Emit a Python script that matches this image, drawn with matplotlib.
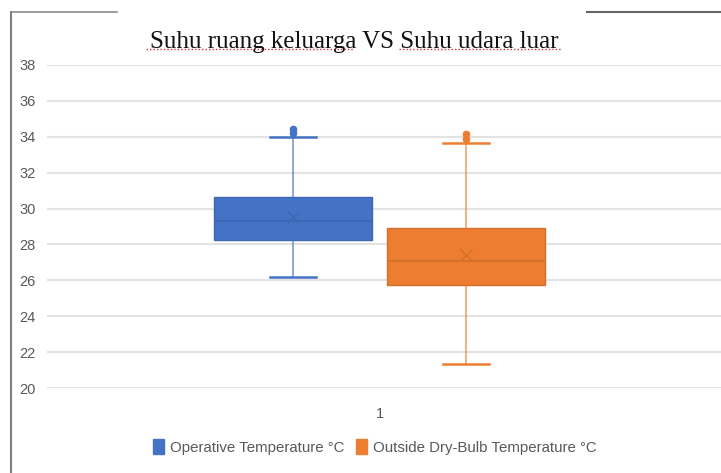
import matplotlib
matplotlib.use("Agg")
import matplotlib.pyplot as plt
from matplotlib.patches import Patch
from matplotlib.lines import Line2D

# values
series = ["Operative Temperature °C", "Outside Dry-Bulb Temperature °C"]
q1 = [28.25, 25.75]
med = [29.28, 27.1]
q3 = [30.62, 28.93]
mean = [29.52, 27.42]
whislo = [26.2, 21.32]
whishi = [34.0, 33.65]
fliers = [[34.46, 34.22], [34.14, 33.88]]
category = "1"
yticks = [20, 22, 24, 26, 28, 30, 32, 34, 36, 38]

colors = ["#4472C4", "#ED7D31"]
dark = ["#3D67B2", "#D2702C"]
positions = [0.871, 1.128]

fig = plt.figure(figsize=(7.21, 4.73), dpi=100)
ax = fig.add_axes([0.0652, 0.1797, 0.9348, 0.6829])

stats = []
for i in range(len(series)):
    stats.append(dict(label=series[i], q1=q1[i], med=med[i], q3=q3[i], mean=mean[i],
                      whislo=whislo[i], whishi=whishi[i], fliers=fliers[i]))

for i, st in enumerate(stats):
    ax.bxp([st], positions=[positions[i]], widths=0.234, patch_artist=True,
           showmeans=True, capwidths=0.068,
           boxprops=dict(facecolor=colors[i], edgecolor=dark[i], linewidth=1.0),
           medianprops=dict(color=dark[i], linewidth=1.3),
           whiskerprops=dict(color=colors[i], linewidth=1.4, alpha=0.6),
           capprops=dict(color=colors[i], linewidth=1.8),
           meanprops=dict(marker="x", markeredgecolor=dark[i], markersize=8, markeredgewidth=1.0),
           flierprops=dict(marker="o", markerfacecolor=colors[i], markeredgecolor=colors[i],
                           markersize=4.5),
           zorder=3)

ax.set_xlim(0.506, 1.506)
ax.set_ylim(20, 38)
ax.set_yticks(yticks)
ax.set_xticks([1.0])
ax.set_xticklabels([category])
ax.tick_params(length=0, labelsize=10.5, labelcolor="#595959", pad=8)
ax.tick_params(axis="x", pad=14)
for t in ax.get_yticklabels() + ax.get_xticklabels():
    t.set_fontfamily("Liberation Sans")
for s in ax.spines.values():
    s.set_visible(False)
ax.yaxis.grid(True, color="#e3e3e3", linewidth=1.5)
ax.set_axisbelow(True)

# title with spell-check style underline
fig.text(0.491, 0.911, "Suhu ruang keluarga VS Suhu udara luar", ha="center", va="center",
         fontsize=18, family="Liberation Serif", color="#111111")
fig.add_artist(Line2D([146 / 721, 354 / 721], [1 - 49 / 473] * 2, color="#e53030",
                      linestyle=(0, (1, 1.5)), linewidth=1.0))
fig.add_artist(Line2D([399 / 721, 562 / 721], [1 - 49 / 473] * 2, color="#e53030",
                      linestyle=(0, (1, 1.5)), linewidth=1.0))

# frame of the pasted chart
fig.add_artist(Line2D([11 / 721, 11 / 721], [0, 1 - 12 / 473], color="#7f7f7f", linewidth=1.5))
fig.add_artist(Line2D([11 / 721, 117 / 721], [1 - 12 / 473] * 2, color="#8c8c8c", linewidth=1.2))
fig.add_artist(Line2D([587 / 721, 1], [1 - 12 / 473] * 2, color="#666666", linewidth=1.5))

handles = [Patch(facecolor=colors[i], edgecolor=colors[i], label=series[i]) for i in range(len(series))]
leg = fig.legend(handles=handles, loc="center", bbox_to_anchor=(0.52, 1 - 447 / 473), ncol=2,
                 frameon=False, handlelength=0.7, handleheight=1.1,
                 handletextpad=0.4, columnspacing=0.8, prop={"family": "Liberation Sans", "size": 10.8})
for t in leg.get_texts():
    t.set_color("#595959")

fig.savefig("out.png", dpi=100)
